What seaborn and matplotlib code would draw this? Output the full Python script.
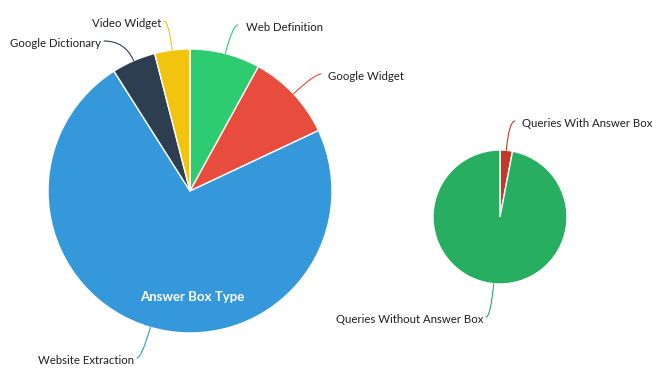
import numpy as np
import matplotlib
matplotlib.use("Agg")
import matplotlib.pyplot as plt
import seaborn as sns

# answer box type breakdown (percent of answer boxes)
type_labels = ["Web Definition", "Google Widget", "Website Extraction", "Google Dictionary", "Video Widget"]
type_values = [8, 10, 73, 5, 4]
type_colors = ["#2ecc71", "#e74c3c", "#3498db", "#2c3e50", "#f1c40f"]

# share of queries showing an answer box
query_labels = ["Queries With Answer Box", "Queries Without Answer Box"]
query_values = [3, 97]
query_colors = ["#c0392b", "#27ae60"]

sns.set_theme(style="white")
plt.rcParams["font.family"] = ["Lato", "DejaVu Sans"]

W, H = 665, 376
fig = plt.figure(figsize=(W / 100, H / 100), dpi=100)
ax = fig.add_axes([0, 0, 1, 1])

def draw_pie(values, colors, center, radius):
    wedges, _ = ax.pie(values, colors=colors, center=center, radius=radius,
                       startangle=90, counterclock=False,
                       wedgeprops=dict(edgecolor="white", linewidth=1))
    return wedges

big = draw_pie(type_values, type_colors, (190, H - 191), 142)
small = draw_pie(query_values, query_colors, (500, H - 217), 67)

ax.set_xlim(0, W)
ax.set_ylim(0, H)
ax.set_aspect("equal")
ax.axis("off")

# where each connector ends (pixel coords from top-left) and text side
big_label_pos = [(238, 25, "left"), (321, 74, "left"), (137, 358, "right"),
                 (104, 41, "right"), (164, 21, "right")]
small_label_pos = [(515, 121, "left"), (486, 317, "right")]

def label_wedges(wedges, labels, positions):
    for w, lab, (px, py, side) in zip(wedges, labels, positions):
        mid = np.deg2rad((w.theta1 + w.theta2) / 2)
        cx, cy = w.center
        ex, ey = cx + w.r * np.cos(mid), cy + w.r * np.sin(mid)
        lx, ly = px, H - py
        ax.annotate("", xy=(ex, ey), xytext=(lx, ly),
                    arrowprops=dict(arrowstyle="-", color=w.get_facecolor(), lw=0.8,
                                    shrinkA=0, shrinkB=0,
                                    connectionstyle=f"angle3,angleA=0,angleB={np.rad2deg(mid):.1f}"))
        off = 7.5 if side == "left" else -3
        ax.text(lx + off, ly - 2.5, lab, ha=side, va="center", fontsize=8.2, color="#1e1e1e")

label_wedges(big, type_labels, big_label_pos)
label_wedges(small, query_labels, small_label_pos)

ax.text(192, H - 297, "Answer Box Type", ha="center", va="center",
        fontsize=9.5, fontweight="bold", color="white")

fig.savefig("out.png", dpi=100)
